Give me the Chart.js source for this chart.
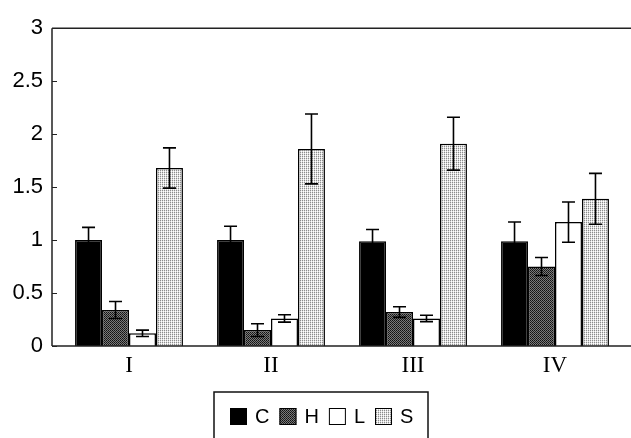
<!DOCTYPE html>
<html>
<head>
<meta charset="utf-8">
<script src="https://cdn.jsdelivr.net/npm/chart.js@4/dist/chart.umd.min.js"></script>
<style>
  html, body { margin: 0; padding: 0; background: #fff; }
  #wrap { width: 631px; height: 438px; position: relative; }
</style>
</head>
<body>
<div id="wrap"><canvas id="chart"></canvas></div>
<script>
// data
const categories = ['I', 'II', 'III', 'IV'];
const seriesNames = ['C', 'H', 'L', 'S'];
const valC = [1.00, 1.00, 0.99, 0.99];
const valH = [0.34, 0.15, 0.32, 0.75];
const valL = [0.12, 0.26, 0.26, 1.17];
const valS = [1.68, 1.86, 1.91, 1.39];
const errC = [0.12, 0.13, 0.11, 0.18];
const errH = [0.08, 0.06, 0.05, 0.085];
const errL = [0.03, 0.035, 0.03, 0.19];
const errS = [0.19, 0.33, 0.25, 0.24];
const yTickLabels = ['0', '0.5', '1', '1.5', '2', '2.5', '3'];

// little pixel patterns for the shaded bars
function makePattern(cells) {
  const n = cells.length;
  const c = document.createElement('canvas');
  c.width = n; c.height = n;
  const g = c.getContext('2d');
  cells.forEach((row, y) => row.forEach((col, x) => {
    g.fillStyle = col;
    g.fillRect(x, y, 1, 1);
  }));
  return g.createPattern(c, 'repeat');
}
const patH = makePattern([['#111', '#7a7a7a'], ['#7a7a7a', '#222']]);
const patS = makePattern([['#8c8c8c', '#e6e6e6'], ['#d8d8d8', '#fff']]);

const fills = ['#000', patH, '#fff', patS];
const values = [valC, valH, valL, valS];
const errors = [errC, errH, errL, errS];

// frame, ticks, error bars
const extras = {
  id: 'extras',
  afterDatasetsDraw(chart) {
    const ctx = chart.ctx;
    const y = chart.scales.y;
    ctx.save();
    ctx.strokeStyle = '#000';
    ctx.lineWidth = 1.6;
    errors.forEach((errs, i) => {
      const meta = chart.getDatasetMeta(i);
      meta.data.forEach((bar, j) => {
        const v = values[i][j];
        const yt = y.getPixelForValue(v + errs[j]);
        const yb = y.getPixelForValue(v - errs[j]);
        ctx.beginPath();
        ctx.moveTo(bar.x, yt); ctx.lineTo(bar.x, yb);
        ctx.moveTo(bar.x - 6.5, yt); ctx.lineTo(bar.x + 6.5, yt);
        ctx.moveTo(bar.x - 6.5, yb); ctx.lineTo(bar.x + 6.5, yb);
        ctx.stroke();
      });
    });
    // axis frame
    const a = chart.chartArea;
    ctx.strokeStyle = '#222';
    ctx.lineWidth = 1.5;
    ctx.beginPath();
    ctx.moveTo(52, a.top); ctx.lineTo(631, a.top);
    ctx.moveTo(52, a.top); ctx.lineTo(52, a.bottom);
    ctx.moveTo(52, a.bottom); ctx.lineTo(631, a.bottom);
    ctx.stroke();
    ctx.lineWidth = 1;
    y.ticks.forEach(t => {
      const py = Math.round(y.getPixelForValue(t.value)) + 0.5;
      ctx.beginPath();
      ctx.moveTo(52, py); ctx.lineTo(57, py);
      ctx.stroke();
    });
    ctx.restore();
  },
  afterDraw(chart) {
    // boxed legend under the chart
    const ctx = chart.ctx;
    ctx.save();
    ctx.strokeStyle = '#111';
    ctx.lineWidth = 1.5;
    ctx.strokeRect(214, 392, 214, 60);
    ctx.font = '20px "Liberation Sans", Arial, sans-serif';
    ctx.textBaseline = 'middle';
    ctx.fillStyle = '#000';
    let x = 230;
    const top = 408, sz = 17;
    seriesNames.forEach((name, i) => {
      ctx.fillStyle = fills[i];
      ctx.fillRect(x, top, sz, sz);
      ctx.lineWidth = 1;
      ctx.strokeStyle = '#000';
      ctx.strokeRect(x + 0.5, top + 0.5, sz - 1, sz - 1);
      x += sz + 8;
      ctx.fillStyle = '#000';
      ctx.fillText(name, x, top + sz / 2 + 1);
      x += ctx.measureText(name).width + 10;
    });
    ctx.restore();
  }
};

new Chart(document.getElementById('chart'), {
  type: 'bar',
  data: {
    labels: categories,
    datasets: seriesNames.map((name, i) => ({
      label: name,
      data: values[i],
      backgroundColor: fills[i],
      borderColor: '#000',
      borderWidth: 1.5,
      categoryPercentage: 0.76,
      barPercentage: 1.0
    }))
  },
  options: {
    responsive: true,
    maintainAspectRatio: false,
    animation: false,
    layout: { padding: { top: 21, right: 5, bottom: 52, left: 0 } },
    scales: {
      x: {
        grid: { display: false, drawTicks: false },
        border: { display: false },
        ticks: {
          color: '#000',
          padding: 6,
          font: { family: '"Liberation Serif", "Times New Roman", serif', size: 23 }
        },
        afterFit(s) { s.height = 40; }
      },
      y: {
        min: 0,
        max: 3,
        grid: { display: false, drawTicks: false },
        border: { display: false },
        ticks: {
          stepSize: 0.5,
          color: '#000',
          padding: 15,
          font: { family: '"Liberation Sans", Arial, sans-serif', size: 22 },
          callback: (v, i) => yTickLabels[i]
        },
        afterFit(s) { s.width = 58; }
      }
    },
    plugins: {
      legend: { display: false },
      tooltip: { enabled: false }
    }
  },
  plugins: [extras]
});
</script>
</body>
</html>
